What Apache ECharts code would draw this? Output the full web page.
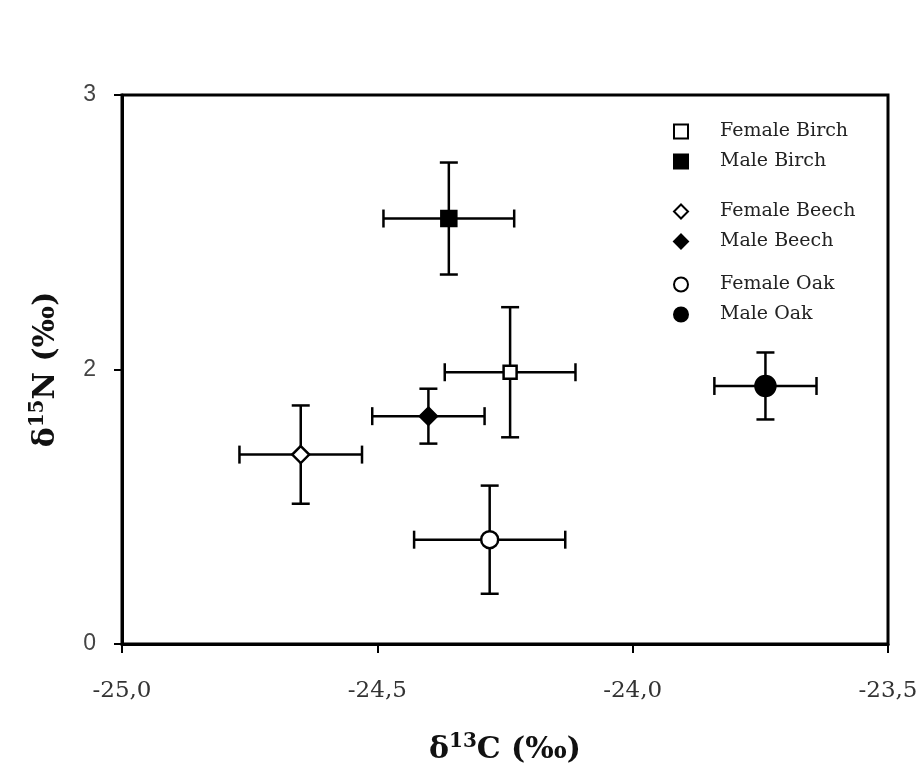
<!DOCTYPE html>
<html>
<head>
<meta charset="utf-8">
<script src="https://cdn.jsdelivr.net/npm/echarts@6/dist/echarts.min.js"></script>
<style>
  html, body { margin: 0; padding: 0; background: #fff; }
  #chart { width: 923px; height: 772px; }
</style>
</head>
<body>
<div id="chart"></div>
<script>
// values
const groups = ["Female Birch", "Male Birch", "Female Beech", "Male Beech", "Female Oak", "Male Oak"];
const d13C = [-24.24, -24.36, -24.65, -24.40, -24.28, -23.74];
const d13CErr = [0.128, 0.128, 0.12, 0.11, 0.148, 0.10];
const d15N = [1.99, 2.55, 1.69, 1.83, 1.38, 1.94];
const d15NErr = [0.237, 0.204, 0.179, 0.10, 0.197, 0.122];
const yTickLabels = ["0", "2", "3"]; // broken axis: bottom tick reads 0

// marker look per group
const markers = {
  "Female Birch": { symbol: "rect", size: 13, fill: "#fff" },
  "Male Birch": { symbol: "rect", size: 15, fill: "#000" },
  "Female Beech": { symbol: "diamond", size: 17, fill: "#fff" },
  "Male Beech": { symbol: "diamond", size: 17, fill: "#000" },
  "Female Oak": { symbol: "circle", size: 17, fill: "#fff" },
  "Male Oak": { symbol: "circle", size: 20, fill: "#000" }
};

const chart = echarts.init(document.getElementById("chart"));

const errRows = groups.map((g, i) => [d13C[i], d15N[i], d13CErr[i], d15NErr[i]]);

function renderErr(params, api) {
  const x = api.value(0), y = api.value(1), ex = api.value(2), ey = api.value(3);
  const l = api.coord([x - ex, y]);
  const r = api.coord([x + ex, y]);
  const t = api.coord([x, y + ey]);
  const b = api.coord([x, y - ey]);
  const cap = 9;
  const style = { stroke: "#000", lineWidth: 2.5 };
  const line = (x1, y1, x2, y2) => ({ type: "line", shape: { x1, y1, x2, y2 }, style });
  return {
    type: "group",
    children: [
      line(l[0], l[1], r[0], r[1]),
      line(t[0], t[1], b[0], b[1]),
      line(l[0], l[1] - cap, l[0], l[1] + cap),
      line(r[0], r[1] - cap, r[0], r[1] + cap),
      line(t[0] - cap, t[1], t[0] + cap, t[1]),
      line(b[0] - cap, b[1], b[0] + cap, b[1])
    ]
  };
}

const legendText = {
  fontFamily: "DejaVu Serif",
  fontSize: 19,
  color: "#222",
  lineHeight: 21,
  padding: [0, 0, 0, 27]
};

function legendBlock(names, top) {
  return {
    orient: "vertical",
    left: 668,
    top: top,
    itemGap: 9,
    selectedMode: false,
    itemWidth: 14,
    itemHeight: 14,
    textStyle: legendText,
    data: names.map(n => ({ name: n, icon: markers[n].symbol }))
  };
}

const scatterSeries = groups.map((g, i) => ({
  name: g,
  type: "scatter",
  z: 5,
  symbol: markers[g].symbol,
  symbolSize: markers[g].size,
  itemStyle: { color: markers[g].fill, borderColor: "#000", borderWidth: 2.5, opacity: 1 },
  data: [[d13C[i], d15N[i]]]
}));

const titleRich = {
  b: { fontFamily: "DejaVu Serif", fontWeight: "bold", fontSize: 30, color: "#111", lineHeight: 36 },
  s: { fontFamily: "DejaVu Serif", fontWeight: "bold", fontSize: 20, color: "#111", verticalAlign: "top", lineHeight: 36 }
};

chart.setOption({
  backgroundColor: "#fff",
  animation: false,
  grid: {
    left: 122,
    right: 35,
    top: 95,
    bottom: 128,
    show: true,
    borderColor: "#000",
    borderWidth: 3
  },
  legend: [
    legendBlock(["Female Birch", "Male Birch"], 116),
    legendBlock(["Female Beech", "Male Beech"], 196),
    legendBlock(["Female Oak", "Male Oak"], 269)
  ],
  xAxis: {
    type: "value",
    min: -25,
    max: -23.5,
    interval: 0.5,
    name: "{b|δ}{s|13}{b|C (‰)}",
    nameLocation: "middle",
    nameGap: 88,
    nameTextStyle: { rich: titleRich },
    axisLine: { lineStyle: { color: "#000", width: 3 } },
    axisTick: { length: 9, lineStyle: { color: "#000", width: 2 } },
    axisLabel: {
      margin: 36,
      fontFamily: "DejaVu Serif",
      fontSize: 23,
      color: "#333",
      formatter: v => v.toFixed(1).replace(".", ",")
    },
    splitLine: { show: false }
  },
  yAxis: {
    type: "value",
    min: 1,
    max: 3,
    interval: 1,
    name: "{b|δ}{s|15}{b|N (‰)}",
    nameLocation: "middle",
    nameGap: 58,
    nameTextStyle: { rich: titleRich },
    axisLine: { show: true, lineStyle: { color: "#000", width: 3 } },
    axisTick: { show: true, length: 8, lineStyle: { color: "#000", width: 2 } },
    axisLabel: {
      margin: 26,
      fontFamily: "Liberation Sans",
      fontSize: 23,
      color: "#444",
      formatter: v => yTickLabels[Math.round(v - 1)]
    },
    splitLine: { show: false }
  },
  series: [
    {
      name: "error bars",
      type: "custom",
      z: 2,
      renderItem: renderErr,
      encode: { x: 0, y: 1 },
      data: errRows
    }
  ].concat(scatterSeries)
});
</script>
</body>
</html>
